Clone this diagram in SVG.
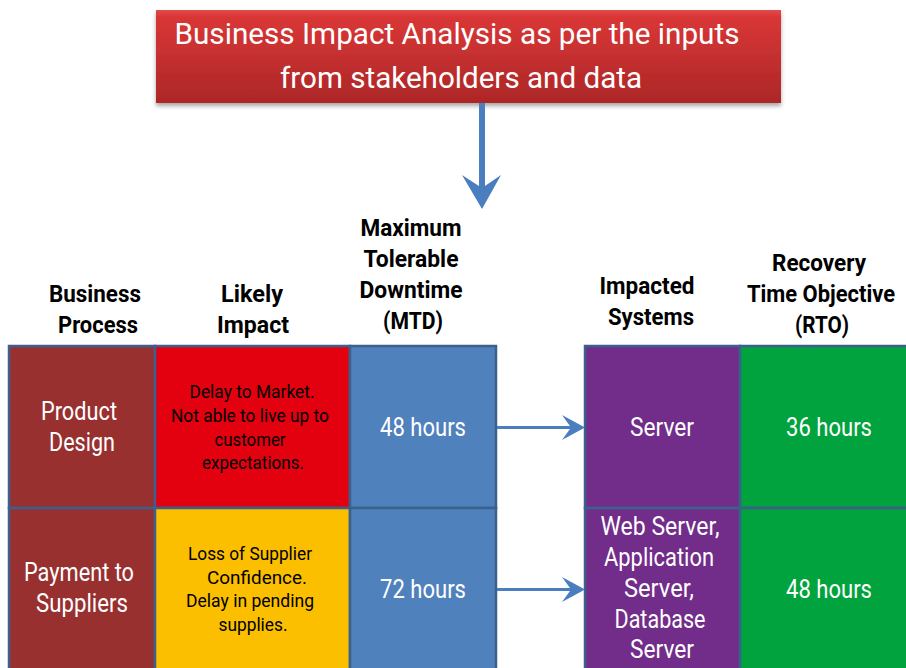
<svg xmlns="http://www.w3.org/2000/svg" width="906" height="668" viewBox="0 0 906 668">
<defs>
<linearGradient id="bannerGrad" x1="0" y1="0" x2="0" y2="1">
<stop offset="0" stop-color="#e24a4a"/>
<stop offset="0.08" stop-color="#d93636"/>
<stop offset="1" stop-color="#ad2727"/>
</linearGradient>
<filter id="shadow" x="-5%" y="-10%" width="110%" height="130%">
<feDropShadow dx="0" dy="3" stdDeviation="2" flood-color="#000" flood-opacity="0.35"/>
</filter>
<style>
text{font-family:Roboto,"Liberation Sans",Arial,sans-serif;text-anchor:middle}
.banner{fill:#fff;font-size:30px}
.hdr{fill:#000;font-size:23.5px;font-weight:bold}
.cw{fill:#fff;font-size:25px}
.cb{fill:#000;font-size:18.5px}
.cell{stroke:#3d5f8c;stroke-width:2.5}
.bp{fill:#983030}
.red{fill:#e3000f}
.yel{fill:#fbbf00}
.blu{fill:#4f81bd}
.pur{fill:#722c8a}
.grn{fill:#00a33d}
.conn{fill:#4a7ebf}
</style>
</defs>

<g id="banner">
<rect x="156" y="10" width="625" height="93" fill="url(#bannerGrad)" filter="url(#shadow)"/>
<text class="banner" x="457" y="44" textLength="565" lengthAdjust="spacingAndGlyphs">Business Impact Analysis as per the inputs</text>
<text class="banner" x="461" y="88" textLength="362" lengthAdjust="spacingAndGlyphs">from stakeholders and data</text>
</g>

<g id="headers">
<text class="hdr" x="95" y="302" textLength="92" lengthAdjust="spacingAndGlyphs">Business</text>
<text class="hdr" x="98" y="333" textLength="80" lengthAdjust="spacingAndGlyphs">Process</text>
<text class="hdr" x="252" y="302" textLength="62" lengthAdjust="spacingAndGlyphs">Likely</text>
<text class="hdr" x="253" y="333" textLength="72" lengthAdjust="spacingAndGlyphs">Impact</text>
<text class="hdr" x="411" y="236" textLength="101" lengthAdjust="spacingAndGlyphs">Maximum</text>
<text class="hdr" x="411" y="267" textLength="95" lengthAdjust="spacingAndGlyphs">Tolerable</text>
<text class="hdr" x="411" y="298" textLength="103" lengthAdjust="spacingAndGlyphs">Downtime</text>
<text class="hdr" x="413" y="329" textLength="60" lengthAdjust="spacingAndGlyphs">(MTD)</text>
<text class="hdr" x="647" y="294" textLength="95" lengthAdjust="spacingAndGlyphs">Impacted</text>
<text class="hdr" x="651" y="325" textLength="86" lengthAdjust="spacingAndGlyphs">Systems</text>
<text class="hdr" x="819" y="271" textLength="94" lengthAdjust="spacingAndGlyphs">Recovery</text>
<text class="hdr" x="821" y="302" textLength="148" lengthAdjust="spacingAndGlyphs">Time Objective</text>
<text class="hdr" x="822" y="333" textLength="54" lengthAdjust="spacingAndGlyphs">(RTO)</text>
</g>

<g id="row1-process">
<rect class="cell bp" x="9" y="346" width="146" height="162"/>
<text class="cw" x="79" y="420" textLength="76" lengthAdjust="spacingAndGlyphs">Product</text>
<text class="cw" x="82" y="451" textLength="66" lengthAdjust="spacingAndGlyphs">Design</text>
</g>
<g id="row1-impact">
<rect class="cell red" x="155" y="346" width="195" height="162"/>
<text class="cb" x="252" y="398" textLength="125" lengthAdjust="spacingAndGlyphs">Delay to Market.</text>
<text class="cb" x="250" y="422" textLength="158" lengthAdjust="spacingAndGlyphs">Not able to live up to</text>
<text class="cb" x="250" y="446" textLength="71" lengthAdjust="spacingAndGlyphs">customer</text>
<text class="cb" x="253" y="469" textLength="102" lengthAdjust="spacingAndGlyphs">expectations.</text>
</g>
<g id="row1-mtd">
<rect class="cell blu" x="350" y="346" width="146" height="162"/>
<text class="cw" x="423" y="436" textLength="86" lengthAdjust="spacingAndGlyphs">48 hours</text>
</g>
<g id="row1-systems">
<rect class="cell pur" x="585" y="346" width="155" height="162"/>
<text class="cw" x="662" y="436" textLength="64" lengthAdjust="spacingAndGlyphs">Server</text>
</g>
<g id="row1-rto">
<rect class="cell grn" x="740" y="346" width="170" height="162"/>
<text class="cw" x="829" y="436" textLength="86" lengthAdjust="spacingAndGlyphs">36 hours</text>
</g>

<g id="row2-process">
<rect class="cell bp" x="9" y="508" width="146" height="165"/>
<text class="cw" x="79" y="581" textLength="110" lengthAdjust="spacingAndGlyphs">Payment to</text>
<text class="cw" x="82" y="612" textLength="92" lengthAdjust="spacingAndGlyphs">Suppliers</text>
</g>
<g id="row2-impact">
<rect class="cell yel" x="155" y="508" width="195" height="165"/>
<text class="cb" x="250" y="560" textLength="124" lengthAdjust="spacingAndGlyphs">Loss of Supplier</text>
<text class="cb" x="257" y="584" textLength="100" lengthAdjust="spacingAndGlyphs">Confidence.</text>
<text class="cb" x="250" y="607" textLength="128" lengthAdjust="spacingAndGlyphs">Delay in pending</text>
<text class="cb" x="253" y="631" textLength="69" lengthAdjust="spacingAndGlyphs">supplies.</text>
</g>
<g id="row2-mtd">
<rect class="cell blu" x="350" y="508" width="146" height="165"/>
<text class="cw" x="423" y="598" textLength="86" lengthAdjust="spacingAndGlyphs">72 hours</text>
</g>
<g id="row2-systems">
<rect class="cell pur" x="585" y="508" width="155" height="165"/>
<text class="cw" x="660" y="535" textLength="119" lengthAdjust="spacingAndGlyphs">Web Server,</text>
<text class="cw" x="659" y="566" textLength="110" lengthAdjust="spacingAndGlyphs">Application</text>
<text class="cw" x="659" y="597" textLength="70" lengthAdjust="spacingAndGlyphs">Server,</text>
<text class="cw" x="660" y="628" textLength="91" lengthAdjust="spacingAndGlyphs">Database</text>
<text class="cw" x="662" y="658" textLength="64" lengthAdjust="spacingAndGlyphs">Server</text>
</g>
<g id="row2-rto">
<rect class="cell grn" x="740" y="508" width="170" height="165"/>
<text class="cw" x="829" y="598" textLength="86" lengthAdjust="spacingAndGlyphs">48 hours</text>
</g>

<g id="connectors">
<rect class="conn" x="479" y="103" width="6" height="85"/>
<path class="conn" d="M462,175 L482,188 L501,175 L482,209 Z"/>
<rect class="conn" x="497" y="426" width="74" height="3"/>
<path class="conn" d="M562,415 L571,427.5 L562,440 L585,427.5 Z"/>
<rect class="conn" x="497" y="588" width="74" height="3"/>
<path class="conn" d="M562,577 L571,589.5 L562,602 L585,589.5 Z"/>
</g>
</svg>
